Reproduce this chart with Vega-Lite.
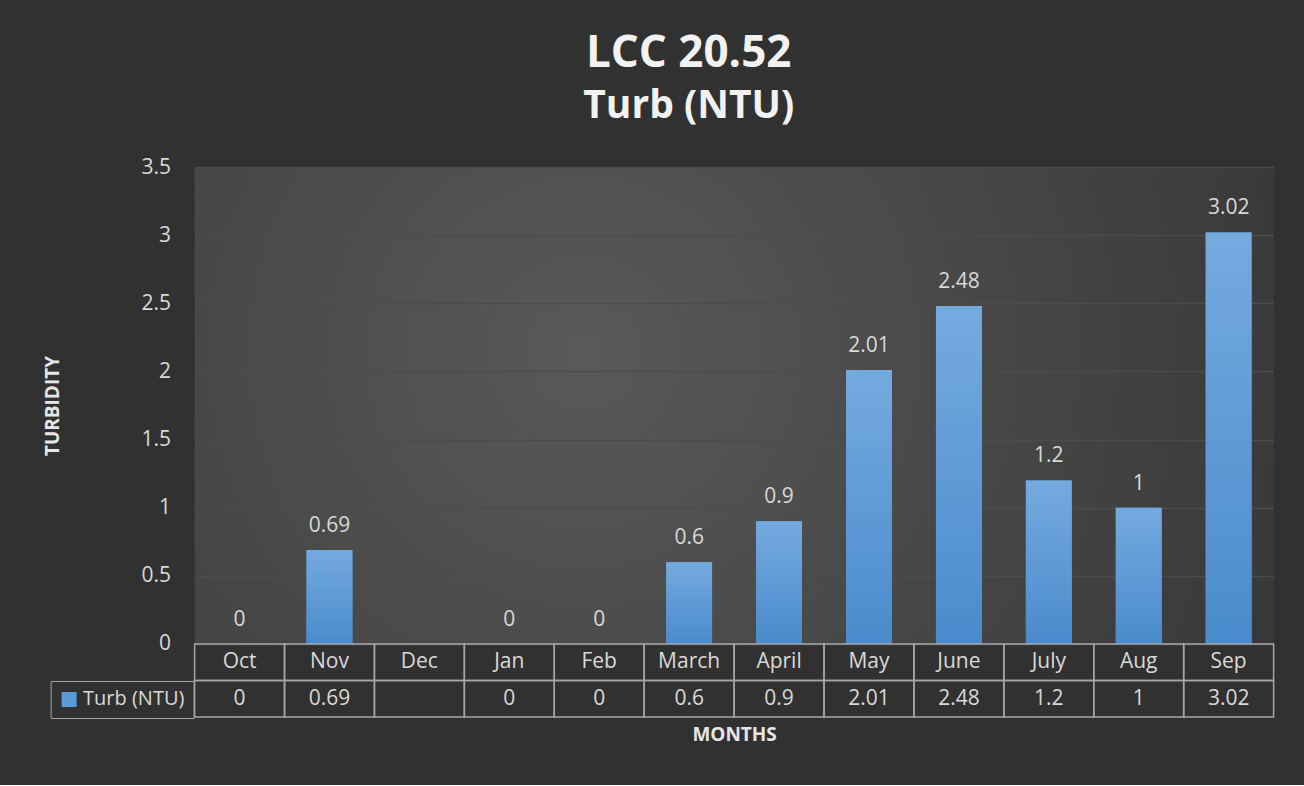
{
  "$schema": "https://vega.github.io/schema/vega-lite/v6.json",
  "background": "#313131",
  "padding": {"left": 42.6, "top": 32, "right": 31, "bottom": 40},
  "title": {
    "text": "LCC 20.52",
    "subtitle": "Turb (NTU)",
    "anchor": "middle",
    "dx": 30,
    "font": "Open Sans",
    "fontSize": 44,
    "fontWeight": "bold",
    "color": "#f2f2f2",
    "subtitleFont": "Open Sans",
    "subtitleFontSize": 39,
    "subtitleFontWeight": "bold",
    "subtitleColor": "#f2f2f2",
    "subtitlePadding": 11,
    "offset": 30
  },
  "datasets": {
    "turb": [
      {"Month": "Oct", "Turb": 0},
      {"Month": "Nov", "Turb": 0.69},
      {"Month": "Dec", "Turb": null},
      {"Month": "Jan", "Turb": 0},
      {"Month": "Feb", "Turb": 0},
      {"Month": "March", "Turb": 0.6},
      {"Month": "April", "Turb": 0.9},
      {"Month": "May", "Turb": 2.01},
      {"Month": "June", "Turb": 2.48},
      {"Month": "July", "Turb": 1.2},
      {"Month": "Aug", "Turb": 1},
      {"Month": "Sep", "Turb": 3.02}
    ]
  },
  "spacing": 0,
  "bounds": "flush",
  "vconcat": [
    {
      "width": 1079,
      "height": 477,
      "view": {
        "stroke": null,
        "fill": {
          "gradient": "radial",
          "x1": 0.36, "y1": 0.45, "r1": 0,
          "x2": 0.36, "y2": 0.45, "r2": 0.82,
          "stops": [
            {"offset": 0, "color": "#595959"},
            {"offset": 1, "color": "#323232"}
          ]
        }
      },
      "data": {"name": "turb"},
      "encoding": {
        "x": {
          "field": "Month",
          "type": "nominal",
          "sort": null,
          "axis": null,
          "scale": {
            "domain": ["Oct", "Nov", "Dec", "Jan", "Feb", "March", "April", "May", "June", "July", "Aug", "Sep"],
            "paddingInner": 0.49,
            "paddingOuter": 0.245
          }
        }
      },
      "layer": [
        {
          "mark": {"type": "bar"},
          "encoding": {
            "y": {
              "field": "Turb",
              "type": "quantitative",
              "scale": {"domain": [0, 3.5], "nice": false},
              "axis": {
                "values": [0, 0.5, 1, 1.5, 2, 2.5, 3, 3.5],
                "format": "~g",
                "title": "TURBIDITY",
                "titleFont": "Open Sans",
                "titleFontSize": 19,
                "titleFontWeight": "bold",
                "titleColor": "#e6e6e6",
                "titlePadding": 79,
                "labelFont": "Open Sans",
                "labelFontSize": 21,
                "labelColor": "#d9d9d9",
                "labelPadding": 24,
                "ticks": false,
                "domain": false,
                "grid": true,
                "gridColor": "#4c4c4c",
                "gridWidth": 1.3
              }
            },
            "color": {
              "datum": "Turb (NTU)",
              "type": "nominal",
              "scale": {"range": ["#5b9bd5"]},
              "legend": {
                "orient": "none",
                "legendX": -144,
                "legendY": 514,
                "title": null,
                "symbolType": "square",
                "symbolSize": 225,
                "symbolStrokeWidth": 0,
                "symbolOpacity": 1,
                "labelFont": "Open Sans",
                "labelFontSize": 20,
                "labelColor": "#d9d9d9",
                "labelOffset": 4,
                "padding": 8.5,
                "strokeColor": "#a6a6a6"
              }
            }
          }
        },
        {
          "mark": {
            "type": "bar",
            "fill": {
              "gradient": "linear",
              "x1": 0, "y1": 0, "x2": 0, "y2": 1,
              "stops": [
                {"offset": 0, "color": "#75aadf"},
                {"offset": 1, "color": "#4a8bcd"}
              ]
            }
          },
          "encoding": {
            "y": {"field": "Turb", "type": "quantitative"}
          }
        },
        {
          "transform": [{"filter": "isValid(datum.Turb)"}],
          "mark": {
            "type": "text",
            "baseline": "alphabetic",
            "dy": -18,
            "font": "Open Sans",
            "fontSize": 21,
            "color": "#d9d9d9"
          },
          "encoding": {
            "y": {"field": "Turb", "type": "quantitative"},
            "text": {"field": "Turb", "type": "quantitative"}
          }
        }
      ]
    },
    {
      "width": 1079,
      "height": 73,
      "data": {"name": "turb"},
      "encoding": {
        "x": {
          "field": "Month",
          "type": "nominal",
          "sort": null,
          "scale": {
            "domain": ["Oct", "Nov", "Dec", "Jan", "Feb", "March", "April", "May", "June", "July", "Aug", "Sep"],
            "paddingInner": 0,
            "paddingOuter": 0
          },
          "axis": {
            "title": "MONTHS",
            "labels": false,
            "ticks": false,
            "domain": false,
            "titleFont": "Open Sans",
            "titleFontSize": 19,
            "titleFontWeight": "bold",
            "titleColor": "#e6e6e6",
            "titlePadding": 9
          }
        }
      },
      "layer": [
        {
          "mark": {"type": "rect", "fill": "transparent", "stroke": "#a6a6a6", "strokeWidth": 1.5},
          "encoding": {
            "y": {
              "datum": "Month",
              "type": "nominal",
              "scale": {"domain": ["Month", "Turb (NTU)"], "paddingInner": 0, "paddingOuter": 0},
              "axis": null
            }
          }
        },
        {
          "mark": {"type": "rect", "fill": "transparent", "stroke": "#a6a6a6", "strokeWidth": 1.5},
          "encoding": {
            "y": {"datum": "Turb (NTU)", "type": "nominal"}
          }
        },
        {
          "mark": {"type": "text", "baseline": "middle", "font": "Open Sans", "fontSize": 21, "color": "#d9d9d9"},
          "encoding": {
            "y": {"datum": "Month", "type": "nominal"},
            "text": {"field": "Month", "type": "nominal"}
          }
        },
        {
          "transform": [{"filter": "isValid(datum.Turb)"}],
          "mark": {"type": "text", "baseline": "middle", "font": "Open Sans", "fontSize": 21, "color": "#d9d9d9"},
          "encoding": {
            "y": {"datum": "Turb (NTU)", "type": "nominal"},
            "text": {"field": "Turb", "type": "quantitative"}
          }
        }
      ]
    }
  ],
  "config": {
    "view": {"stroke": null},
    "font": "Open Sans"
  }
}
